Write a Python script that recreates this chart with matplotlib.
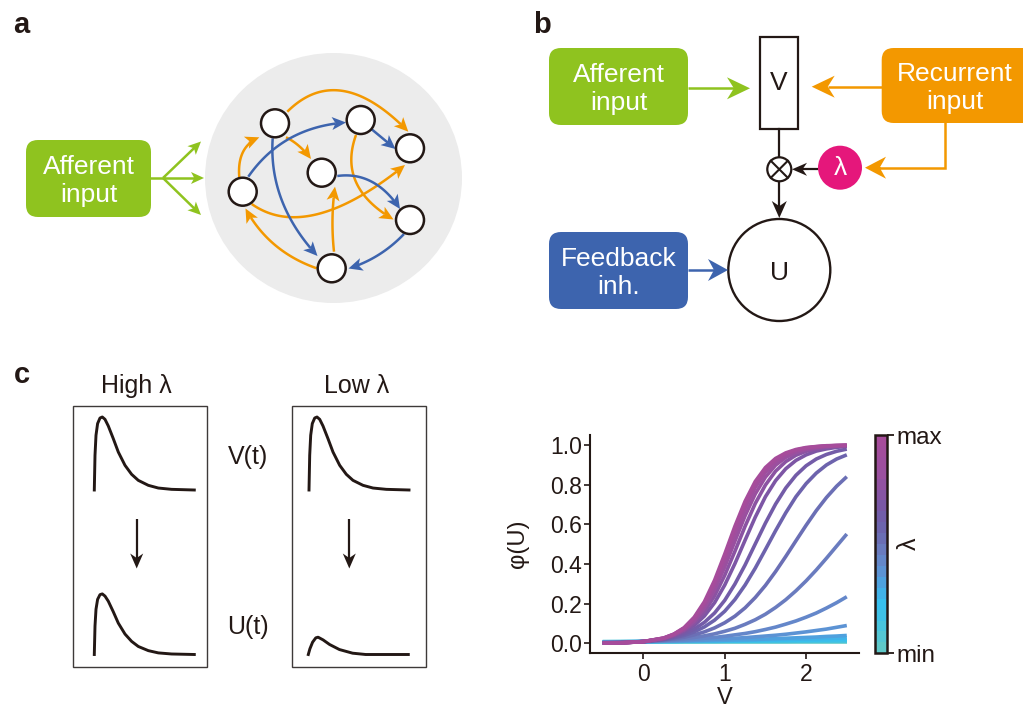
import numpy as np
import matplotlib
matplotlib.use("Agg")
import matplotlib.pyplot as plt
from matplotlib.patches import Circle, Ellipse, FancyBboxPatch, Rectangle, Polygon
from matplotlib.colors import LinearSegmentedColormap, Normalize
from matplotlib.cm import ScalarMappable

plt.rcParams['font.family'] = ['Liberation Sans', 'DejaVu Sans']

# ---- data ----
# panel c (right): phi(U) vs V, one curve per lambda level (min -> max)
v_grid = [-0.5, -0.25, 0.0, 0.25, 0.375, 0.5, 0.625, 0.75, 0.875, 1.0, 1.125,
          1.25, 1.375, 1.5, 1.625, 1.75, 1.875, 2.0, 2.125, 2.25, 2.375, 2.5]
lam_levels = [0.0, 0.07, 0.14, 0.20, 0.26, 0.32, 0.37, 0.42, 0.47, 0.52,
              0.58, 0.64, 0.70, 0.76, 0.82, 0.88, 0.94, 1.0]
phi_by_lambda = [
    [.009, .009, .009, .009, .009, .009, .009, .009, .009, .009, .009,
     .009, .009, .009, .009, .009, .009, .009, .009, .009, .009, .009],
    [.009, .009, .009, .009, .009, .009, .009, .010, .010, .010, .010,
     .010, .010, .010, .010, .010, .011, .011, .011, .011, .011, .011],
    [.008, .009, .009, .009, .010, .010, .010, .010, .010, .011, .011,
     .011, .011, .012, .012, .012, .012, .012, .013, .013, .013, .013],
    [.008, .008, .009, .010, .010, .011, .011, .011, .012, .012, .013,
     .013, .014, .014, .015, .016, .016, .017, .017, .018, .019, .020],
    [.007, .008, .009, .010, .010, .011, .012, .013, .013, .014, .015,
     .016, .017, .018, .019, .020, .021, .022, .023, .025, .026, .028],
    [.007, .008, .009, .011, .011, .012, .013, .014, .015, .016, .018,
     .019, .020, .022, .024, .026, .028, .030, .032, .035, .037, .040],
    [.006, .007, .009, .011, .013, .014, .016, .018, .021, .023, .026,
     .029, .033, .037, .041, .046, .052, .058, .065, .072, .081, .090],
    [.005, .006, .009, .013, .015, .018, .021, .026, .030, .036, .043,
     .050, .059, .070, .082, .097, .113, .132, .153, .178, .205, .235],
    [.003, .006, .009, .015, .019, .024, .030, .038, .048, .061, .076,
     .096, .119, .147, .181, .220, .265, .315, .370, .429, .490, .551],
    [.003, .005, .009, .017, .023, .031, .043, .058, .078, .104, .137,
     .179, .231, .292, .362, .438, .517, .595, .669, .735, .792, .840],
    [.002, .004, .009, .019, .028, .040, .058, .083, .117, .162, .221,
     .294, .379, .473, .568, .658, .739, .805, .858, .899, .929, .950],
    [.002, .004, .009, .021, .032, .048, .072, .106, .153, .217, .299,
     .395, .501, .606, .702, .783, .847, .895, .929, .952, .968, .979],
    [.001, .004, .009, .023, .037, .058, .090, .138, .205, .294, .402,
     .520, .636, .739, .820, .880, .922, .950, .969, .980, .988, .992],
    [.001, .003, .009, .024, .040, .065, .103, .159, .239, .343, .464,
     .590, .705, .798, .868, .916, .948, .968, .980, .988, .993, .996],
    [.001, .003, .009, .025, .043, .070, .113, .178, .269, .385, .515,
     .643, .753, .838, .898, .937, .962, .977, .986, .992, .995, .997],
    [.001, .003, .009, .026, .045, .075, .122, .194, .293, .417, .552,
     .680, .786, .864, .916, .950, .970, .983, .990, .994, .997, .998],
    [.001, .003, .009, .027, .046, .077, .127, .202, .305, .434, .571,
     .699, .801, .875, .924, .955, .974, .985, .991, .995, .997, .998],
    [.001, .003, .009, .027, .047, .079, .132, .210, .318, .450, .590,
     .716, .816, .886, .932, .960, .977, .987, .992, .996, .997, .999],
]
y_ticks = [0.0, 0.2, 0.4, 0.6, 0.8, 1.0]
x_ticks = [0, 1, 2]

# panel c (left): example time courses, normalised time and amplitude
trace_t = [0, 0.007, 0.017, 0.033, 0.057, 0.08, 0.107, 0.14, 0.19, 0.24,
           0.307, 0.373, 0.44, 0.54, 0.64, 0.773, 1.0]
trace_v = [0, 0.475, 0.75, 0.91, 0.986, 1.0, 0.968, 0.877, 0.703, 0.52,
           0.338, 0.215, 0.132, 0.064, 0.027, 0.009, 0.0]
trace_u_high = [0, 0.39, 0.62, 0.755, 0.82, 0.83, 0.80, 0.73, 0.585, 0.43,
                0.28, 0.18, 0.11, 0.053, 0.022, 0.007, 0.0]
trace_low_t = [0, 0.016, 0.043, 0.075, 0.098, 0.148, 0.213, 0.311, 0.443, 0.574, 1.0]
trace_u_low = [0, 0.078, 0.169, 0.228, 0.237, 0.20, 0.137, 0.068, 0.018, 0.0, 0.0]

# ---- styles ----
W, H = 1023, 708
GREEN = '#8fc31f'
ORANGE = '#f39800'
BLUE = '#3d64ae'
MAGENTA = '#e5177b'
INK = '#231815'

fig = plt.figure(figsize=(W / 100, H / 100), dpi=100)
bg = fig.add_axes([0, 0, 1, 1], zorder=0)
bg.set_xlim(0, W)
bg.set_ylim(H, 0)
bg.axis('off')


def px_axes(x0, x1, y_top, y_bot, **kw):
    return fig.add_axes([x0 / W, 1 - y_bot / H, (x1 - x0) / W, (y_bot - y_top) / H], **kw)


def arrow(p0, p1, color, via=None, lw=1.8, hl=14, hw=6.5, notch=0.25, z=2):
    # quadratic curve through `via`, with a notched filled head at p1
    p0 = np.array(p0, float)
    p1 = np.array(p1, float)
    if via is None:
        ctrl = (p0 + p1) / 2
    else:
        ctrl = 2 * np.array(via, float) - 0.5 * (p0 + p1)
    t = np.linspace(0, 1, 80)[:, None]
    pts = (1 - t) ** 2 * p0 + 2 * (1 - t) * t * ctrl + t ** 2 * p1
    d = p1 - ctrl
    if np.hypot(*d) < 1e-6:
        d = p1 - p0
    d = d / np.hypot(*d)
    n = np.array([-d[1], d[0]])
    base = p1 - hl * d
    nt = p1 - hl * (1 - notch) * d
    keep = (pts - p1) @ d < -hl * (1 - notch) + 0.5
    pts = np.vstack([pts[keep], nt])
    bg.plot(pts[:, 0], pts[:, 1], color=color, lw=lw, solid_capstyle='butt', zorder=z)
    bg.add_patch(Polygon([p1, base + hw * n, nt, base - hw * n], closed=True,
                         fc=color, ec='none', zorder=z))


def rbox(x0, y0, x1, y1, color, text, r=12, tx=None, dy=2.5):
    bg.add_patch(FancyBboxPatch((x0, y0), x1 - x0, y1 - y0,
                                boxstyle=f"round,pad=0,rounding_size={r}",
                                fc=color, ec='none', zorder=2))
    if tx is None:
        tx = (x0 + x1) / 2
    bg.text(tx, (y0 + y1) / 2 + dy, text, color='white', fontsize=19,
            ha='center', va='center', linespacing=1.2, zorder=3)


# ---- panel a ----
bg.text(21, 25, 'a', fontsize=21, fontweight='bold', color=INK, ha='center', va='center')
bg.add_patch(Ellipse((333.5, 178), 257, 250, fc='#ececec', ec='none', zorder=1))
rbox(26, 140, 151, 217, GREEN, 'Afferent\ninput')
bg.plot([150, 164], [178, 178], color=GREEN, lw=1.8, zorder=2)
for tip in [(201, 141.5), (204, 178), (201, 215)]:
    arrow((163, 178), tip, GREEN, hl=13, hw=6)

edges = [
    (ORANGE, (287.3, 111.7), (343.3, 91), (408.3, 131.7)),
    (ORANGE, (239.3, 177.3), (243, 152), (259.3, 137.3)),
    (ORANGE, (286, 137.3), (299, 146), (311, 159)),
    (ORANGE, (251.7, 204), (318, 214), (405, 165)),
    (ORANGE, (356, 135), (356, 182), (393.5, 219.5)),
    (ORANGE, (334, 251.7), (332.5, 219), (335, 186.7)),
    (ORANGE, (316.7, 268.3), (275, 245), (245.5, 208.5)),
    (BLUE, (248.3, 176.7), (290, 138.3), (346, 122.5)),
    (BLUE, (272.7, 138.3), (281.7, 200), (317.5, 256)),
    (BLUE, (371.7, 129.3), None, (395.5, 149)),
    (BLUE, (337.3, 176), (371.7, 181.7), (400, 209)),
    (BLUE, (404, 234), (378.3, 255), (348.5, 268.5)),
]
for col, p0, via, p1 in edges:
    arrow(p0, p1, col, via=via)

nodes = [(275, 123.3), (360.7, 120), (410, 148.3), (321.7, 172.7),
         (242.7, 191.7), (410, 220), (331.7, 268.3)]
for cx, cy in nodes:
    bg.add_patch(Circle((cx, cy), 14, fc='white', ec=INK, lw=1.8, zorder=4))

# ---- panel b ----
bg.text(541.7, 25, 'b', fontsize=21, fontweight='bold', color=INK, ha='center', va='center')
rbox(549, 48, 688, 125, GREEN, 'Afferent\ninput')
rbox(881.7, 48, 1040, 123, ORANGE, 'Recurrent\ninput', tx=955)
rbox(549, 232, 688, 309, BLUE, 'Feedback\ninh.')
bg.add_patch(Rectangle((760, 37), 38, 92, fc='white', ec=INK, lw=1.6, zorder=2))
bg.text(779, 83, 'V', fontsize=19, color=INK, ha='center', va='center', zorder=3)
arrow((688, 88.3), (750, 88.3), GREEN, hl=23, hw=11, notch=0.3)
arrow((881.7, 86.7), (811.7, 86.7), ORANGE, hl=23, hw=11, notch=0.3)
bg.plot([945, 945, 880], [123, 167.7, 167.7], color=ORANGE, lw=1.8, zorder=2,
        solid_joinstyle='miter')
arrow((880, 167.7), (865, 167.7), ORANGE, hl=21, hw=11, notch=0.3)
bg.add_patch(Circle((840, 167.7), 22, fc=MAGENTA, ec='none', zorder=3))
bg.text(840, 168, 'λ', fontsize=19, color='white', ha='center', va='center', zorder=4)
bg.plot([779.3, 779.3], [129, 157], color=INK, lw=1.6, zorder=2)
bg.add_patch(Circle((779.3, 169.3), 12, fc='white', ec=INK, lw=1.6, zorder=3))
k = 12 / np.sqrt(2)
bg.plot([779.3 - k, 779.3 + k], [169.3 - k, 169.3 + k], color=INK, lw=1.5, zorder=4)
bg.plot([779.3 - k, 779.3 + k], [169.3 + k, 169.3 - k], color=INK, lw=1.5, zorder=4)
arrow((818, 169.3), (792, 169.3), INK, lw=1.6, hl=15, hw=6.5, notch=0.3)
arrow((779.3, 181.5), (779.3, 218), INK, lw=1.6, hl=17, hw=7.5, notch=0.3)
bg.add_patch(Circle((779.3, 270), 51, fc='white', ec=INK, lw=1.7, zorder=2))
bg.text(779.3, 273, 'U', fontsize=19, color=INK, ha='center', va='center', zorder=3)
arrow((688, 270), (728, 270), BLUE, hl=20, hw=11, notch=0.3)

# ---- panel c (left) ----
bg.text(21.7, 375, 'c', fontsize=21, fontweight='bold', color=INK, ha='center', va='center')
bg.text(136.7, 386, 'High λ', fontsize=18, color=INK, ha='center', va='center')
bg.text(356.7, 386, 'Low λ', fontsize=18, color=INK, ha='center', va='center')
bg.add_patch(Rectangle((72.7, 405.7), 134.6, 261, fc='none', ec='#3e3a39', lw=1.0, zorder=2))
bg.add_patch(Rectangle((291.7, 405.7), 134, 261, fc='none', ec='#3e3a39', lw=1.0, zorder=2))
bg.text(248.3, 457, 'V(t)', fontsize=18, color=INK, ha='center', va='center')
bg.text(248.3, 627, 'U(t)', fontsize=18, color=INK, ha='center', va='center')
arrow((136.7, 519), (136.7, 568.5), INK, lw=1.6, hl=15, hw=6.5, notch=0.3)
arrow((349.3, 519), (349.3, 568.5), INK, lw=1.6, hl=15, hw=6.5, notch=0.3)

for x0, base, tt, yy in [(94.3, 490, trace_t, trace_v),
                         (309, 490, trace_t, trace_v),
                         (94.3, 654.5, trace_t, trace_u_high),
                         (308.3, 654.5, trace_low_t, trace_u_low)]:
    tax = px_axes(x0, x0 + 100, base - 73, base, zorder=3)
    tax.set_xlim(0, 1)
    tax.set_ylim(0, 1)
    tax.axis('off')
    tax.plot(tt, yy, color=INK, lw=2.1, clip_on=False)

# ---- panel c (right): phi(U) vs V ----
cmap = LinearSegmentedColormap.from_list('lam', [
    (0.0, '#5fc8c8'), (0.12, '#45c3e0'), (0.22, '#36bff0'), (0.30, '#4aa6e2'),
    (0.38, '#5f90d2'), (0.47, '#6a7cbf'), (0.56, '#6b66ae'), (0.67, '#7658a6'),
    (0.82, '#9950a0'), (1.0, '#a64c9b')])

ax = px_axes(590, 859, 435, 653.3, zorder=2)
for lev, ys in zip(lam_levels, phi_by_lambda):
    ax.plot(v_grid, ys, color=cmap(lev), lw=2.6, solid_capstyle='butt',
            solid_joinstyle='round')
ax.set_xlim(-0.656, 2.65)
ax.set_ylim(-0.05, 1.05)
ax.set_xticks(x_ticks)
ax.set_yticks(y_ticks)
ax.set_yticklabels([f'{v:.1f}' for v in y_ticks])
for s in ['top', 'right']:
    ax.spines[s].set_visible(False)
for s in ['left', 'bottom']:
    ax.spines[s].set_linewidth(1.5)
    ax.spines[s].set_color(INK)
ax.tick_params(length=4, width=1.2, color=INK, labelcolor=INK, labelsize=16.5, pad=2)
ax.tick_params(axis='x', pad=3)
ax.set_xlabel('V', fontsize=17, color=INK, labelpad=1)
ax.set_ylabel('φ(U)', fontsize=17, color=INK)
ax.yaxis.set_label_coords(-0.225, 0.5)

cax = px_axes(875, 886.7, 435, 653.3, zorder=2)
sm = ScalarMappable(norm=Normalize(0, 1), cmap=cmap.resampled(20))
cb = fig.colorbar(sm, cax=cax)
cb.set_ticks([0, 1], labels=['min', 'max'])
cb.outline.set_linewidth(1.8)
cb.outline.set_edgecolor(INK)
cax.tick_params(length=5, width=1.3, color=INK, labelcolor=INK, labelsize=17.5, pad=2)
cax.text(2.9, 0.5, 'λ', rotation=90, fontsize=18, color=INK, ha='center', va='center',
         transform=cax.transAxes)

fig.savefig('out.png', dpi=100)
